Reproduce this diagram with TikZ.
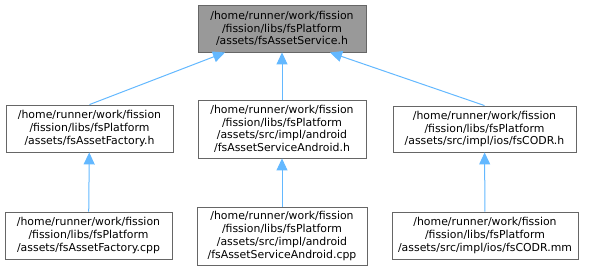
\documentclass[tikz,border=0pt]{standalone}
\usepackage{fontspec}
\setmainfont{DejaVu Sans}
\usetikzlibrary{arrows.meta}

\definecolor{edgeblue}{HTML}{63B8FF}
\definecolor{boxline}{HTML}{666666}
\definecolor{boxgray}{HTML}{999999}

\tikzset{
  filebox/.style={draw=boxline, line width=0.9pt, fill=white, align=center,
    inner sep=1pt, font=\fontsize{10.9}{12.7}\selectfont},
  rootbox/.style={filebox, fill=boxgray},
  incl/.style={draw=edgeblue, line width=1pt,
    {Triangle[length=12pt,width=11pt]}-},
}

\begin{document}
\begin{tikzpicture}[x=1pt,y=-1pt]
  \useasboundingbox (0,0) rectangle (593,271);
  % included header
  \node[rootbox, minimum width=168pt, minimum height=47pt] (svc) at (282,28.5)
    {/home/runner/work/fission\\/fission/libs/fsPlatform\\/assets/fsAssetService.h};
  % files that include it
  \node[filebox, minimum width=167pt, minimum height=47pt] (fach) at (89.5,128.5)
    {/home/runner/work/fission\\/fission/libs/fsPlatform\\/assets/fsAssetFactory.h};
  \node[filebox, minimum width=168pt, minimum height=58pt] (andh) at (282,129)
    {/home/runner/work/fission\\/fission/libs/fsPlatform\\/assets/src/impl/android\\/fsAssetServiceAndroid.h};
  \node[filebox, minimum width=183pt, minimum height=46pt] (iosh) at (484.5,129)
    {/home/runner/work/fission\\/fission/libs/fsPlatform\\/assets/src/impl/ios/fsCODR.h};
  % sources
  \node[filebox, minimum width=167pt, minimum height=47pt] (faccpp) at (88.5,235.5)
    {/home/runner/work/fission\\/fission/libs/fsPlatform\\/assets/fsAssetFactory.cpp};
  \node[filebox, minimum width=170pt, minimum height=58pt] (andcpp) at (282,236)
    {/home/runner/work/fission\\/fission/libs/fsPlatform\\/assets/src/impl/android\\/fsAssetServiceAndroid.cpp};
  \node[filebox, minimum width=186pt, minimum height=47pt] (iosmm) at (485,235.5)
    {/home/runner/work/fission\\/fission/libs/fsPlatform\\/assets/src/impl/ios/fsCODR.mm};
  % include edges
  \draw[incl] ([xshift=-57pt]svc.south) -- (fach.north);
  \draw[incl] (svc) -- (andh);
  \draw[incl] ([xshift=48pt]svc.south) -- (iosh.north);
  \draw[incl] (fach) -- (faccpp);
  \draw[incl] (andh) -- (andcpp);
  \draw[incl] (iosh) -- (iosmm);
\end{tikzpicture}
\end{document}
